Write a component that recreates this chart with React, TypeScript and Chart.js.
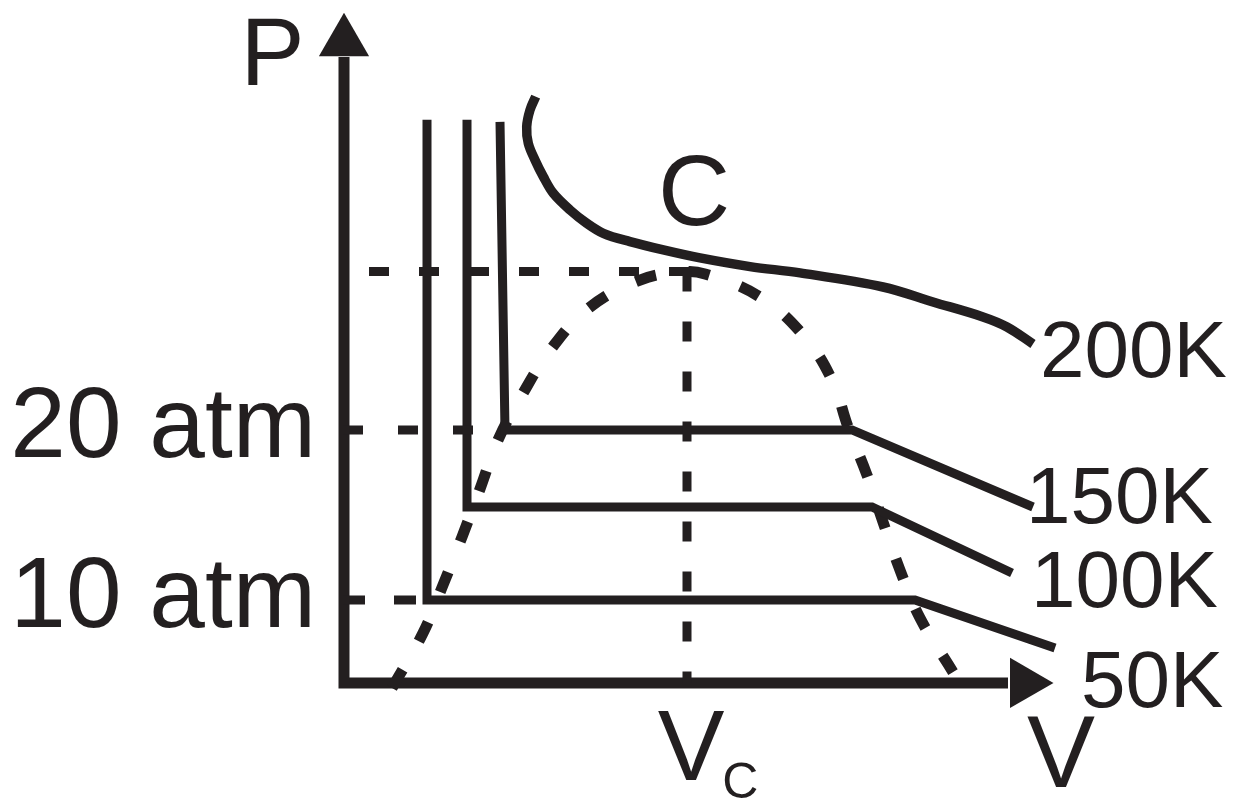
import React, { useEffect, useRef } from 'react';
import { Chart, registerables } from 'chart.js';

Chart.register(...registerables);

const INK = '#231f20';

// Scale ranges: V in arbitrary units, P in atm
const V_MIN = -3.43;
const V_MAX = 9.01;
const P_MIN = -1.94;
const P_MAX = 45.29;

// Isotherms (V, P)
const isothermNames = ['50K', '100K', '150K', '200K'];

const iso50V = [0.84, 0.84, 5.72, 7.12];
const iso50P = [38.24, 10, 10, 7.18];

const iso100V = [1.24, 1.24, 5.29, 6.69];
const iso100P = [38.24, 15.47, 15.47, 11.59];

const iso150V = [1.57, 1.62, 5.09, 6.9];
const iso150P = [38.12, 20, 20, 15.47];

const iso200V = [1.927, 1.87, 1.837, 1.853, 1.92, 2.003, 2.103, 2.27, 2.437, 2.603, 2.87, 3.203, 3.57, 4.07, 4.57, 5.4, 5.9, 6.4, 6.64, 6.9];
const iso200P = [39.61, 38.82, 37.84, 36.86, 35.88, 34.9, 33.92, 32.94, 32.16, 31.57, 31.08, 30.59, 30.12, 29.61, 29.24, 28.41, 27.53, 26.65, 26.06, 25.06];

// Liquid-vapour coexistence dome (dotted)
const domeV = [0.49, 0.8, 1.0, 1.19, 1.37, 1.55, 1.79, 2.08, 2.46, 2.97, 3.37, 3.62, 4.17, 4.6, 4.89, 5.05, 5.24, 5.4, 5.57, 5.77, 6.1];
const domeP = [4.82, 8.06, 10.88, 13.71, 16.53, 19.41, 22.06, 24.76, 27.18, 28.82, 29.29, 29.18, 27.82, 25.59, 22.94, 20.18, 17.35, 14.59, 11.76, 8.94, 5.76];

// Critical point
const criticalV = 3.44;
const criticalP = 29.32;

// Y tick values and labels
const yTickValues = [10, 20];
const yTickLabels = ['10 atm', '20 atm'];

// Axis geometry (data units)
const axisOriginV = 0.01;
const axisOriginP = 5.12;
const axisEndV = 6.65;
const axisEndP = 41.94;
const arrowV = [0.01, 6.815];
const arrowP = [42.83, 5.12];

// Text annotations (data units)
const annotations = [
  { text: 'P', v: -1.024, p: 40.29, size: 96 },
  { text: 'C', v: 3.15, p: 32.06, size: 100 },
  { text: 'V', v: 6.84, p: -1.0, size: 102 },
  { text: isothermNames[3], v: 6.97, p: 23.12, size: 80 },
  { text: isothermNames[2], v: 6.83, p: 14.53, size: 80 },
  { text: isothermNames[1], v: 6.88, p: 9.59, size: 80 },
  { text: isothermNames[0], v: 7.38, p: 3.71, size: 80 },
];
const tickLabelV = -0.27;

const pts = (vs: number[], ps: number[]) => vs.map((v, i) => ({ x: v, y: ps[i] }));

const fontOf = (s: number) => `${s}px "Liberation Sans", Arial, Helvetica, sans-serif`;

const textPlugin = {
  id: 'diagramText',
  afterDatasetsDraw(chart: any) {
    const { ctx, scales } = chart;
    const xs = scales.x;
    const ys = scales.y;
    ctx.save();
    ctx.fillStyle = INK;
    ctx.textBaseline = 'alphabetic';

    // tick labels on the P axis
    ctx.textAlign = 'right';
    ctx.font = fontOf(100);
    yTickValues.forEach((val, i) => {
      ctx.fillText(yTickLabels[i], xs.getPixelForValue(tickLabelV), ys.getPixelForValue(val) + 27);
    });

    // other labels
    ctx.textAlign = 'left';
    annotations.forEach((a) => {
      ctx.font = fontOf(a.size);
      ctx.fillText(a.text, xs.getPixelForValue(a.v), ys.getPixelForValue(a.p));
    });

    // V_c label under the critical volume
    const cx = xs.getPixelForValue(criticalV) + 4;
    const baseY = ys.getPixelForValue(axisOriginP) + 97;
    ctx.font = fontOf(100);
    ctx.textAlign = 'center';
    ctx.fillText('V', cx, baseY);
    const w = ctx.measureText('V').width;
    ctx.font = fontOf(50);
    ctx.textAlign = 'left';
    ctx.fillText('C', cx + w / 2 - 2, baseY + 18);
    ctx.restore();
  },
};

export default function App() {
  const ref = useRef<HTMLCanvasElement | null>(null);

  useEffect(() => {
    if (!ref.current) return;
    const line = (data: any[], extra: any = {}) => ({
      data,
      showLine: true,
      borderColor: INK,
      backgroundColor: INK,
      borderWidth: 9,
      pointRadius: 0,
      tension: 0,
      fill: false,
      clip: false,
      borderJoinStyle: 'miter',
      ...extra,
    });

    const chart = new Chart(ref.current, {
      type: 'scatter',
      data: {
        datasets: [
          // dashed guides
          line(pts([0.26, 3.46], [criticalP, criticalP]), { borderDash: [20, 30], borderWidth: 9 }),
          line(pts([criticalV, criticalV], [criticalP, axisOriginP]), { borderDash: [20, 30], borderWidth: 9 }),
          line(pts([0, 1.6], [yTickValues[1], yTickValues[1]]), { borderDash: [20, 35], borderWidth: 9 }),
          line(pts([0, 0.84], [yTickValues[0], yTickValues[0]]), { borderDash: [22, 29], borderWidth: 9 }),
          // isotherms
          line(pts(iso50V, iso50P)),
          line(pts(iso100V, iso100P)),
          line(pts(iso150V, iso150P)),
          line(pts(iso200V, iso200P), { tension: 0.35, borderWidth: 9.5 }),
          // coexistence dome
          line(pts(domeV, domeP), { tension: 0.4, borderWidth: 11, borderDash: [21, 33] }),
          // axes
          line(pts([axisOriginV, axisOriginV, axisEndV], [axisEndP, axisOriginP, axisOriginP]), { borderWidth: 11 }),
          {
            data: pts(arrowV, arrowP),
            showLine: false,
            pointStyle: 'triangle',
            pointRadius: 29,
            pointRotation: [0, 90],
            pointBackgroundColor: INK,
            pointBorderWidth: 0,
            clip: false,
          },
        ],
      },
      options: {
        animation: false,
        responsive: false,
        maintainAspectRatio: false,
        events: [],
        layout: { padding: 0, autoPadding: false },
        plugins: {
          legend: { display: false },
          tooltip: { enabled: false },
          title: { display: false },
        },
        scales: {
          x: { type: 'linear', min: V_MIN, max: V_MAX, display: false },
          y: { type: 'linear', min: P_MIN, max: P_MAX, display: false },
        },
      } as any,
      plugins: [textPlugin],
    } as any);
    return () => chart.destroy();
  }, []);

  return (
    <div style={{ position: 'fixed', left: 0, top: 0, width: 1244, height: 803, background: '#fff' }}>
      <canvas ref={ref} width={1244} height={803} style={{ display: 'block', width: 1244, height: 803 }} />
    </div>
  );
}
